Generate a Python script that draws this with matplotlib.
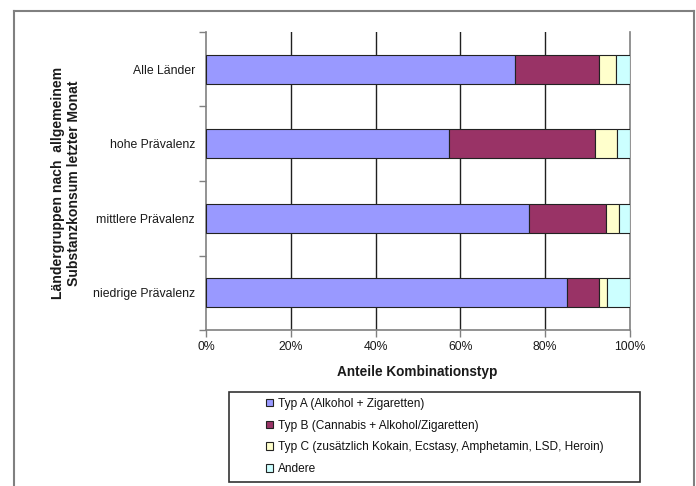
import matplotlib
matplotlib.use("Agg")
import matplotlib.pyplot as plt
from matplotlib.lines import Line2D
from matplotlib.patches import Rectangle
import numpy as np

plt.rcParams['font.family'] = ['Liberation Sans', 'DejaVu Sans']

# Daten (Anteile in %), von oben nach unten
gruppen = ["Alle Länder", "hohe Prävalenz", "mittlere Prävalenz", "niedrige Prävalenz"]
typ_a = [72.9, 57.2, 76.2, 85.2]
typ_b = [19.8, 34.5, 18.1, 7.5]
typ_c = [4.0, 5.2, 3.2, 1.9]
andere = [3.3, 3.1, 2.5, 5.4]

serien = ["Typ A (Alkohol + Zigaretten)",
          "Typ B (Cannabis + Alkohol/Zigaretten)",
          "Typ C (zusätzlich Kokain, Ecstasy, Amphetamin, LSD, Heroin)",
          "Andere"]
farben = ["#9999FF", "#993366", "#FFFFCC", "#CCFFFF"]
xticks = [0, 20, 40, 60, 80, 100]

W, H = 696, 486
fig = plt.figure(figsize=(W / 100, H / 100), dpi=100)
ax = fig.add_axes([206 / W, 1 - 330 / H, 424 / W, 298 / H])

y = np.arange(len(gruppen))[::-1]
links = np.zeros(len(gruppen))
for werte, farbe, name in zip([typ_a, typ_b, typ_c, andere], farben, serien):
    ax.barh(y, werte, left=links, height=0.39, color=farbe,
            edgecolor="#222222", linewidth=0.8, label=name, zorder=3)
    links += np.array(werte)

ax.set_xlim(0, 100)
ax.set_ylim(-0.5, len(gruppen) - 0.5)

# x-Achse
ax.set_xticks(xticks)
ax.set_xticklabels([f"{v}%" for v in xticks], fontsize=8.8, color="#1a1a1a")
ax.tick_params(axis="x", direction="out", length=5, width=1, color="#808080", pad=3)
ax.grid(axis="x", color="#202020", linewidth=1, zorder=1)
gl = ax.xaxis.get_gridlines()
gl[0].set_visible(False)
gl[-1].set_visible(False)

# y-Achse: Striche an Kategoriegrenzen, Beschriftung mittig
ax.set_yticks(np.arange(-0.5, len(gruppen), 1.0))
ax.set_yticklabels([])
ax.tick_params(axis="y", which="major", direction="out", length=5, width=1, color="#808080")
ax.set_yticks(y, minor=True)
ax.set_yticklabels(gruppen, minor=True, fontsize=8.8, color="#1a1a1a")
ax.tick_params(axis="y", which="minor", length=0, pad=8)

for s in ["left", "bottom", "right"]:
    ax.spines[s].set_color("#808080")
    ax.spines[s].set_linewidth(1.2)
ax.spines["top"].set_visible(False)

fig.text(417 / W, 1 - 372 / H, "Anteile Kombinationstyp", ha="center", va="center",
         fontsize=9.8, fontweight="bold", color="#1a1a1a")
fig.text(66 / W, 1 - 183 / H, "Ländergruppen nach  allgemeinem\nSubstanzkonsum letzter Monat",
         rotation=90, ha="center", va="center", multialignment="center",
         fontsize=10.1, fontweight="bold", color="#1a1a1a", linespacing=1.15)

# Legendenrahmen
fig.patches.append(Rectangle((229 / W, 1 - 482 / H), 411 / W, 90 / H, transform=fig.transFigure,
                             fill=False, edgecolor="#333333", linewidth=1.2))
handles, labels = ax.get_legend_handles_labels()
leg = fig.legend(handles, labels, loc="upper left", bbox_to_anchor=(261 / W, 1 - 393 / H),
                 frameon=False, fontsize=8.6, handlelength=0.6, handleheight=0.6,
                 handletextpad=0.45, labelspacing=0.82, borderaxespad=0)
for t in leg.get_texts():
    t.set_color("#111111")

# äußerer Rahmen
rahmen = "#808080"
fig.add_artist(Line2D([14 / W, 14 / W], [0, 1 - 11 / H], transform=fig.transFigure, color=rahmen, lw=1.5))
fig.add_artist(Line2D([14 / W, 694 / W], [1 - 11 / H, 1 - 11 / H], transform=fig.transFigure, color=rahmen, lw=1.5))
fig.add_artist(Line2D([694 / W, 694 / W], [0, 1 - 11 / H], transform=fig.transFigure, color=rahmen, lw=1.5))

fig.savefig("out.png", dpi=100)
